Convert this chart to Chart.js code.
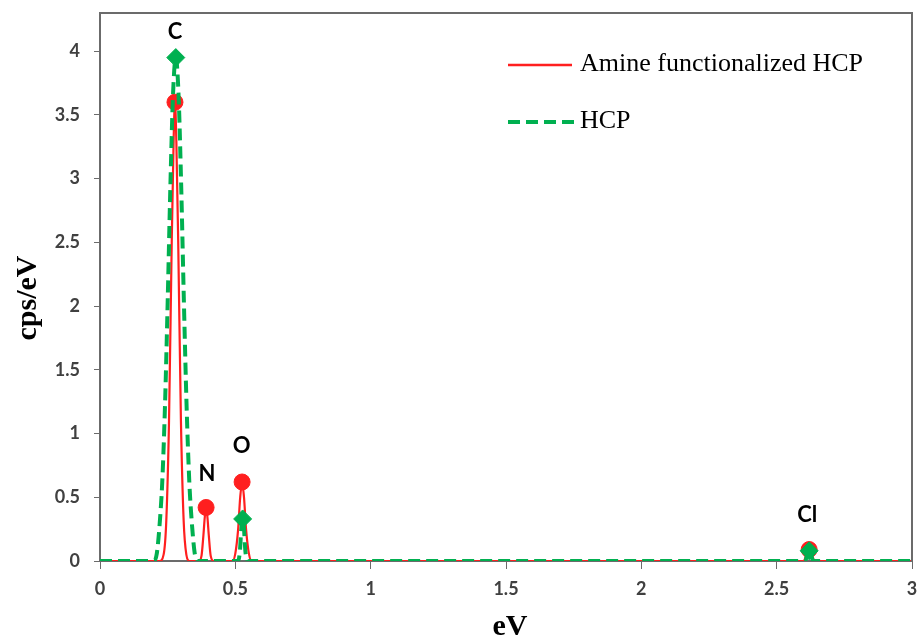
<!DOCTYPE html>
<html>
<head>
<meta charset="utf-8">
<title>EDX spectra</title>
<script src="https://cdn.jsdelivr.net/npm/chart.js@4.4.1/dist/chart.umd.min.js"></script>
<style>
  html, body { margin: 0; padding: 0; background: #fff; }
  #wrap { width: 918px; height: 639px; position: relative; }
</style>
</head>
<body>
<div id="wrap"><canvas id="edx"></canvas></div>
<script>
// --- data (eV vs cps/eV) ---
const amineX = [0, 0.22, 0.235, 0.245, 0.255, 0.265, 0.272, 0.277, 0.282, 0.289, 0.299, 0.309, 0.319, 0.33,
  0.365, 0.375, 0.382, 0.387, 0.392, 0.397, 0.402, 0.409, 0.42,
  0.49, 0.50, 0.51, 0.518, 0.525, 0.532, 0.54, 0.55, 0.56,
  2.60, 2.61, 2.62, 2.63, 2.64, 3];
const amineY = [0, 0, 0.05, 0.32, 1.1, 2.5, 3.3, 3.6, 3.3, 2.5, 1.1, 0.32, 0.05, 0,
  0, 0.04, 0.2, 0.34, 0.42, 0.34, 0.2, 0.04, 0,
  0, 0.06, 0.24, 0.5, 0.62, 0.5, 0.24, 0.06, 0,
  0, 0.05, 0.09, 0.05, 0, 0];

const hcpX = [0, 0.2, 0.21, 0.22, 0.23, 0.24, 0.25, 0.26, 0.27, 0.28, 0.29, 0.30, 0.31, 0.32, 0.33, 0.34, 0.35, 0.36,
  0.51, 0.517, 0.522, 0.527, 0.532, 0.537, 0.544,
  2.605, 2.613, 2.62, 2.627, 2.635, 3];
const hcpY = [0, 0, 0.06, 0.28, 0.62, 1.21, 2.03, 2.94, 3.67, 3.95, 3.67, 2.94, 2.03, 1.21, 0.62, 0.28, 0.06, 0,
  0, 0.08, 0.25, 0.33, 0.25, 0.08, 0,
  0, 0.05, 0.08, 0.05, 0, 0];

// peak markers
const amineMarkX = [0.277, 0.392, 0.525, 2.62];
const amineMarkY = [3.6, 0.42, 0.62, 0.09];
const hcpMarkX = [0.28, 0.527, 2.62];
const hcpMarkY = [3.95, 0.33, 0.08];

// element annotations
const elementNames = ['C', 'N', 'O', 'Cl'];
const elementX = [0.277, 0.395, 0.523, 2.613];
const elementY = [4.15, 0.68, 0.9, 0.36];

const seriesNames = ['Amine functionalized HCP', 'HCP'];
const xTicks = [0, 0.5, 1, 1.5, 2, 2.5, 3];
const yTicks = [0, 0.5, 1, 1.5, 2, 2.5, 3, 3.5, 4];

const RED = '#ff1f1f';
const GREEN = '#00b050';
const AXIS = '#6b6b6b';

const toPoints = (xs, ys) => xs.map((x, i) => ({ x: x, y: ys[i] }));

// box on top/right, element labels, legend and axis titles
const decorPlugin = {
  id: 'decor',
  afterDraw(chart) {
    const { ctx, chartArea: a, scales } = chart;
    ctx.save();

    // top and right border of the plot
    ctx.strokeStyle = AXIS;
    ctx.lineWidth = 2;
    ctx.beginPath();
    ctx.moveTo(a.left, a.top);
    ctx.lineTo(a.right, a.top);
    ctx.lineTo(a.right, a.bottom);
    ctx.stroke();

    // element labels
    ctx.fillStyle = '#000';
    ctx.font = 'bold 22px Lato, "Open Sans", sans-serif';
    ctx.textAlign = 'center';
    ctx.textBaseline = 'middle';
    elementNames.forEach((name, i) => {
      ctx.fillText(name, scales.x.getPixelForValue(elementX[i]), scales.y.getPixelForValue(elementY[i]));
    });

    // legend
    ctx.lineWidth = 2.5;
    ctx.strokeStyle = RED;
    ctx.beginPath();
    ctx.moveTo(508, 65);
    ctx.lineTo(572, 65);
    ctx.stroke();
    ctx.lineWidth = 4;
    ctx.strokeStyle = GREEN;
    ctx.setLineDash([12, 6]);
    ctx.beginPath();
    ctx.moveTo(508, 122);
    ctx.lineTo(574, 122);
    ctx.stroke();
    ctx.setLineDash([]);
    ctx.font = '26px "Liberation Serif", "Times New Roman", serif';
    ctx.textAlign = 'left';
    ctx.fillText(seriesNames[0], 580, 64);
    ctx.fillText(seriesNames[1], 580, 121);

    // axis titles
    ctx.font = 'bold 30px "Liberation Serif", "Times New Roman", serif';
    ctx.textAlign = 'center';
    ctx.fillText('eV', (a.left + a.right) / 2 + 4, 627);
    ctx.translate(28, 298);
    ctx.rotate(-Math.PI / 2);
    ctx.fillText('cps/eV', 0, 0);
    ctx.restore();
  }
};

const tickFont = { family: 'Lato, "Open Sans", sans-serif', size: 18, weight: 'bold' };

new Chart(document.getElementById('edx'), {
  type: 'scatter',
  data: {
    datasets: [
      {
        label: seriesNames[0],
        data: toPoints(amineX, amineY),
        showLine: true,
        borderColor: RED,
        borderWidth: 2.2,
        pointRadius: 0,
        cubicInterpolationMode: 'monotone',
        order: 4
      },
      {
        label: seriesNames[0] + ' peaks',
        data: toPoints(amineMarkX, amineMarkY),
        pointStyle: 'circle',
        pointRadius: 8,
        backgroundColor: RED,
        borderColor: RED,
        order: 3
      },
      {
        label: seriesNames[1],
        data: toPoints(hcpX, hcpY),
        showLine: true,
        borderColor: GREEN,
        borderWidth: 4,
        borderDash: [12, 6],
        pointRadius: 0,
        cubicInterpolationMode: 'monotone',
        order: 2
      },
      {
        label: seriesNames[1] + ' peaks',
        data: toPoints(hcpMarkX, hcpMarkY),
        pointStyle: 'rectRot',
        pointRadius: 9,
        backgroundColor: GREEN,
        borderColor: GREEN,
        order: 1
      }
    ]
  },
  options: {
    responsive: true,
    maintainAspectRatio: false,
    animation: false,
    layout: { autoPadding: false, padding: { top: 13, right: 6, left: 0, bottom: 0 } },
    plugins: {
      legend: { display: false },
      tooltip: { enabled: false }
    },
    scales: {
      x: {
        type: 'linear',
        min: 0,
        max: 3,
        afterFit: (scale) => {
          scale.height = 78;
          scale.paddingLeft = 0;
          scale.paddingRight = 0;
        },
        afterBuildTicks: (scale) => { scale.ticks = xTicks.map(v => ({ value: v })); },
        ticks: {
          callback: (v) => String(v),
          font: tickFont,
          color: '#404040',
          padding: 9,
          maxRotation: 0
        },
        grid: { display: true, drawOnChartArea: false, tickLength: 8, color: AXIS },
        border: { display: true, color: AXIS, width: 2 }
      },
      y: {
        type: 'linear',
        min: 0,
        max: 4.3,
        afterFit: (scale) => {
          scale.width = 100;
          scale.paddingTop = 0;
          scale.paddingBottom = 0;
        },
        afterBuildTicks: (scale) => { scale.ticks = yTicks.map(v => ({ value: v })); },
        ticks: {
          callback: (v) => String(v),
          font: tickFont,
          color: '#404040',
          padding: 14
        },
        grid: { display: true, drawOnChartArea: false, tickLength: 6, color: AXIS },
        border: { display: true, color: AXIS, width: 2 }
      }
    }
  },
  plugins: [decorPlugin]
});
</script>
</body>
</html>
